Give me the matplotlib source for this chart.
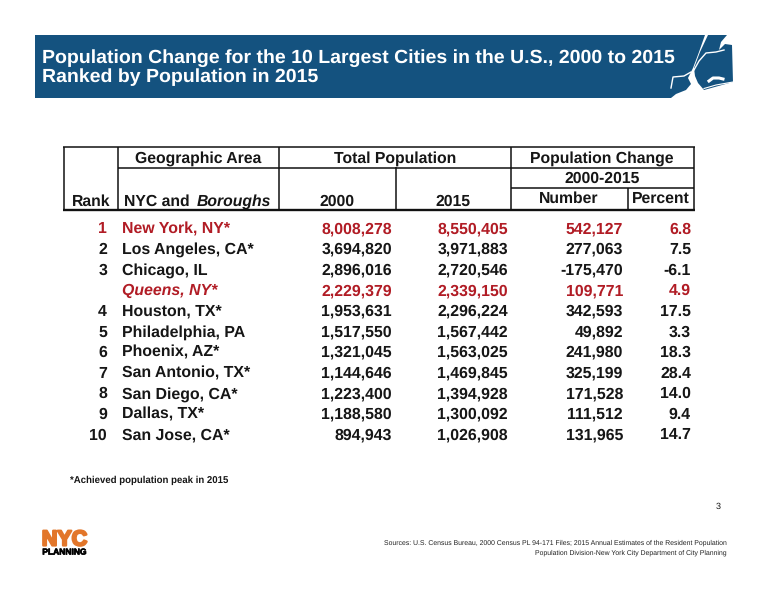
import matplotlib
matplotlib.use("Agg")
import matplotlib.pyplot as plt
from matplotlib.patches import Polygon
import matplotlib.patheffects as pe

plt.rcParams['font.family'] = ['Liberation Sans', 'DejaVu Sans']
plt.rcParams['text.hinting'] = 'none'
plt.rcParams['text.hinting_factor'] = 8

title_lines = ["Population Change for the 10 Largest Cities in the U.S., 2000 to 2015",
               "Ranked by Population in 2015"]
ranks = ["1", "2", "3", "", "4", "5", "6", "7", "8", "9", "10"]
areas = ["New York, NY*", "Los Angeles, CA*", "Chicago, IL", "Queens, NY*", "Houston, TX*",
         "Philadelphia, PA", "Phoenix, AZ*", "San Antonio, TX*", "San Diego, CA*", "Dallas, TX*", "San Jose, CA*"]
pop2000 = [8008278, 3694820, 2896016, 2229379, 1953631, 1517550, 1321045, 1144646, 1223400, 1188580, 894943]
pop2015 = [8550405, 3971883, 2720546, 2339150, 2296224, 1567442, 1563025, 1469845, 1394928, 1300092, 1026908]
change = [542127, 277063, -175470, 109771, 342593, 49892, 241980, 325199, 171528, 111512, 131965]
percent = [6.8, 7.5, -6.1, 4.9, 17.5, 3.3, 18.3, 28.4, 14.0, 9.4, 14.7]
highlight = ["New York, NY*", "Queens, NY*"]
italic = ["Queens, NY*"]

BLUE = "#14527f"; RED = "#b11c25"; INK = "#161616"
fig = plt.figure(figsize=(7.68, 5.93), dpi=100)
ax = fig.add_axes([0, 0, 1, 1])
ax.set_xlim(0, 768); ax.set_ylim(593, 0); ax.axis("off")

# banner with coastline-shaped right end
ax.add_patch(Polygon([(35, 35), (705, 35), (699, 52), (693, 68), (690, 74), (688, 78), (691, 84),
                      (686, 90), (676, 94), (671, 98), (35, 98)], fc=BLUE, ec="none"))
ax.add_patch(Polygon([(708, 35), (727, 35), (721, 42), (719, 50), (725, 44), (732, 45), (733, 82),
                      (722, 85), (704, 90), (698, 83), (695, 76), (694, 68), (700, 52)], fc=BLUE, ec="none"))
for xs, ys, lw in [([671, 673, 684, 691], [88, 77, 76, 72], 1.0),
                   ([694, 699, 706, 716, 724], [70, 61, 53, 52, 50], 1.0),
                   ([704, 716, 733], [88.5, 85, 82], 0.8),
                   ([709, 713, 719, 723], [81, 78, 78, 79], 2.2)]:
    ax.plot(xs, ys, color="white", lw=lw)
for i, line in enumerate(title_lines):
    ax.text(42, 62.5 + i * 20, line, color="white", fontsize=14.0, fontweight="bold", va="baseline", ha="left")

# table rules
def hline(y, x0, x1, lw=1.1):
    ax.plot([x0, x1], [y, y], color="#111111", lw=lw, solid_capstyle="butt")
def vline(x, y0, y1, lw=1.1):
    ax.plot([x, x], [y0, y1], color="#111111", lw=lw, solid_capstyle="butt")
hline(147, 63, 695); hline(209.5, 63, 695, 1.7); hline(167.5, 118, 694); hline(188, 511, 694)
for x, y0 in [(63.5, 147), (118, 147), (279, 147), (396, 167), (511, 147), (694, 147)]:
    vline(x, y0, 209.5)
vline(627.5, 188, 209)

hfs = 11.3
def head(x, y, s, ha="center", **kw):
    ax.text(x, y, s, fontsize=hfs, fontweight="bold", color=INK, ha=ha, va="baseline", **kw)
head(198, 162.5, "Geographic Area"); head(395, 162.5, "Total Population"); head(602, 162.5, "Population Change")
head(602, 183, "2000-2015"); head(569, 202.5, "Number"); head(661, 202.5, "Percent")
head(91, 205.5, "Rank"); head(124, 205.5, "NYC and", ha="left")
ax.text(197, 205.5, "Boroughs", fontsize=hfs, fontweight="bold", style="italic", color=INK, ha="left", va="baseline")
head(337, 205.5, "2000"); head(453, 205.5, "2015")

# rows
fs = 11.4
for i, name in enumerate(areas):
    y = 233.4 + i * 20.6
    c = RED if name in highlight else INK
    st = "italic" if name in italic else "normal"
    kw = dict(fontsize=fs, fontweight="bold", color=c, va="baseline")
    ax.text(107, y, ranks[i], ha="right", **kw)
    ax.text(122, y, name, ha="left", style=st, **kw)
    ax.text(392, y, f"{pop2000[i]:,}", ha="right", **kw)
    ax.text(508, y, f"{pop2015[i]:,}", ha="right", **kw)
    ax.text(623, y, f"{change[i]:,}", ha="right", **kw)
    ax.text(691, y, f"{percent[i]:.1f}", ha="right", **kw)

ax.text(70, 482.5, "*Achieved population peak in 2015", fontsize=6.95, fontweight="bold", color=INK, va="baseline")
ax.text(721, 509, "3", fontsize=6.5, color=INK, ha="right", va="baseline")
ax.text(727, 544.5, "Sources: U.S. Census Bureau, 2000 Census PL 94-171 Files; 2015 Annual Estimates of the Resident Population",
        fontsize=4.95, color="#222222", ha="right", va="baseline")
ax.text(727, 554.5, "Population Division-New York City Department of City Planning",
        fontsize=4.95, color="#222222", ha="right", va="baseline")

# logo
ax.text(64.5, 545.5, "NYC", fontsize=15.5, fontweight="bold", color="#e2762a", ha="center", va="baseline",
        path_effects=[pe.withStroke(linewidth=1.6, foreground="#e2762a")])
ax.text(64.5, 554.5, "PLANNING", fontsize=6.1, fontweight="bold", color="black", ha="center", va="baseline",
        path_effects=[pe.withStroke(linewidth=0.5, foreground="black")])

fig.savefig("out.png", dpi=100, facecolor="white")
